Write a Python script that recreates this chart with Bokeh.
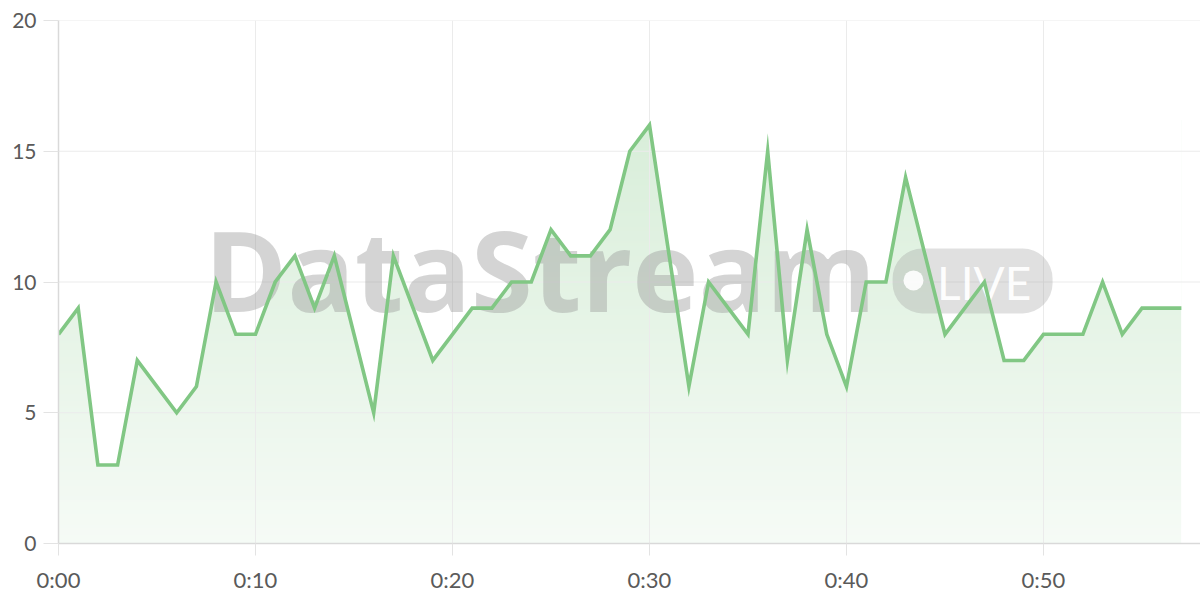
import numpy as np
from bokeh.plotting import figure
from bokeh.models import Range1d, FixedTicker
from bokeh.core.properties import value
from bokeh.embed import file_html
from bokeh.resources import INLINE

# ---- data ----
minutes = list(range(58))
counts = [8, 9, 3, 3, 7, 6, 5, 6, 10, 8,
          8, 10, 11, 9, 11, 8, 5, 11, 9, 7,
          8, 9, 9, 10, 10, 12, 11, 11, 12, 15,
          16, 11, 6, 10, 9, 8, 15, 7, 12, 8,
          6, 10, 10, 14, 11, 8, 9, 10, 7, 7,
          8, 8, 8, 10, 8, 9, 9, 9]
x_ticks = [0, 10, 20, 30, 40, 50]
x_tick_labels = ["0:00", "0:10", "0:20", "0:30", "0:40", "0:50"]
y_ticks = [0, 5, 10, 15, 20]
watermark_title = "DataStream"
watermark_badge = "LIVE"

LINE = (129, 199, 132)
LINE_HEX = "#81c784"
GRID = "#ebebeb"
AXIS = "#d9d9d9"
LABEL = "#5a5a5a"
FONT = "Lato"
WM_FONT = "Open Sans"
X_END, Y_END = 57.97, 20

xs = np.array(minutes, dtype=float)
ys = np.array(counts, dtype=float)

p = figure(width=1200, height=600,
           x_range=Range1d(0, X_END), y_range=Range1d(0, Y_END),
           output_backend="svg", toolbar_location=None,
           min_border_left=58, min_border_right=0,
           min_border_top=20, min_border_bottom=57)
p.outline_line_color = None
p.background_fill_color = "white"
p.border_fill_color = "white"

# vertical gradient image under the series, then a white mask above the line
top = ys.max() + 0.2
rows = 240
h = (np.arange(rows) + 0.5) / rows * top
alpha = 0.075 + 0.0145 * h
rgba = np.zeros((rows, 4, 4), dtype=np.uint8)
for i, c in enumerate(LINE):
    rgba[:, :, i] = np.round(255 - alpha * (255 - c))[:, None]
rgba[:, :, 3] = 255
img = rgba.view(dtype=np.uint32).reshape((rows, 4))
p.image_rgba(image=[img], x=xs[0], y=0, dw=xs[-1] - xs[0], dh=top)
p.varea(x=xs, y1=ys, y2=np.full_like(ys, Y_END + 1), fill_color="white")
p.quad(left=[xs[-1]], right=[X_END + 1], bottom=[-1], top=[Y_END + 1],
       fill_color="white", line_color=None)

# grid lines (drawn above the fill, below the line)
p.segment(x0=x_ticks, x1=x_ticks, y0=0, y1=Y_END, line_color=GRID, line_width=1)
p.segment(x0=0, x1=X_END, y0=y_ticks[1:], y1=y_ticks[1:], line_color=GRID, line_width=1)

# watermark
p.text(x=[7.4], y=[10.5], text=[watermark_title],
       text_font=value(WM_FONT), text_font_style="bold",
       text_font_size="112px", text_color="#999999", text_alpha=0.42,
       text_baseline="alphabetic", text_align="left")
p.quad(left=[42.34], right=[50.46], top=[11.28], bottom=[8.80],
       fill_color="#999999", fill_alpha=0.3, line_color=None,
       border_radius=30)
p.scatter(x=[43.4], y=[10.06], size=20, marker="circle",
          fill_color="white", line_color=None, fill_alpha=0.9)
p.text(x=[44.6], y=[9.98], text=[watermark_badge],
       text_font=value(FONT), text_font_size="46px",
       text_color="white", text_alpha=0.95,
       text_baseline="alphabetic", text_align="left")

# line
p.line(xs, ys, line_color=LINE_HEX, line_width=3.6, line_join="miter")

# axes
p.xaxis.ticker = FixedTicker(ticks=x_ticks)
p.xaxis.major_label_overrides = {t: l for t, l in zip(x_ticks, x_tick_labels)}
p.yaxis.ticker = FixedTicker(ticks=y_ticks)
for ax in (p.xaxis, p.yaxis):
    ax.axis_line_color = AXIS
    ax.axis_line_width = 1.5
    ax.major_tick_line_color = "#e3e3e3"
    ax.major_tick_in = 0
    ax.minor_tick_line_color = None
    ax.major_label_text_font = FONT
    ax.major_label_text_color = LABEL
p.xaxis.major_tick_out = 12
p.xaxis.major_label_standoff = 10
p.xaxis.major_label_text_font_size = "22px"
p.yaxis.major_tick_out = 15
p.yaxis.major_label_standoff = 7
p.yaxis.major_label_text_font_size = "21px"
p.xgrid.grid_line_color = None
p.ygrid.grid_line_color = None

open("out.html", "w").write(file_html(p, INLINE))
